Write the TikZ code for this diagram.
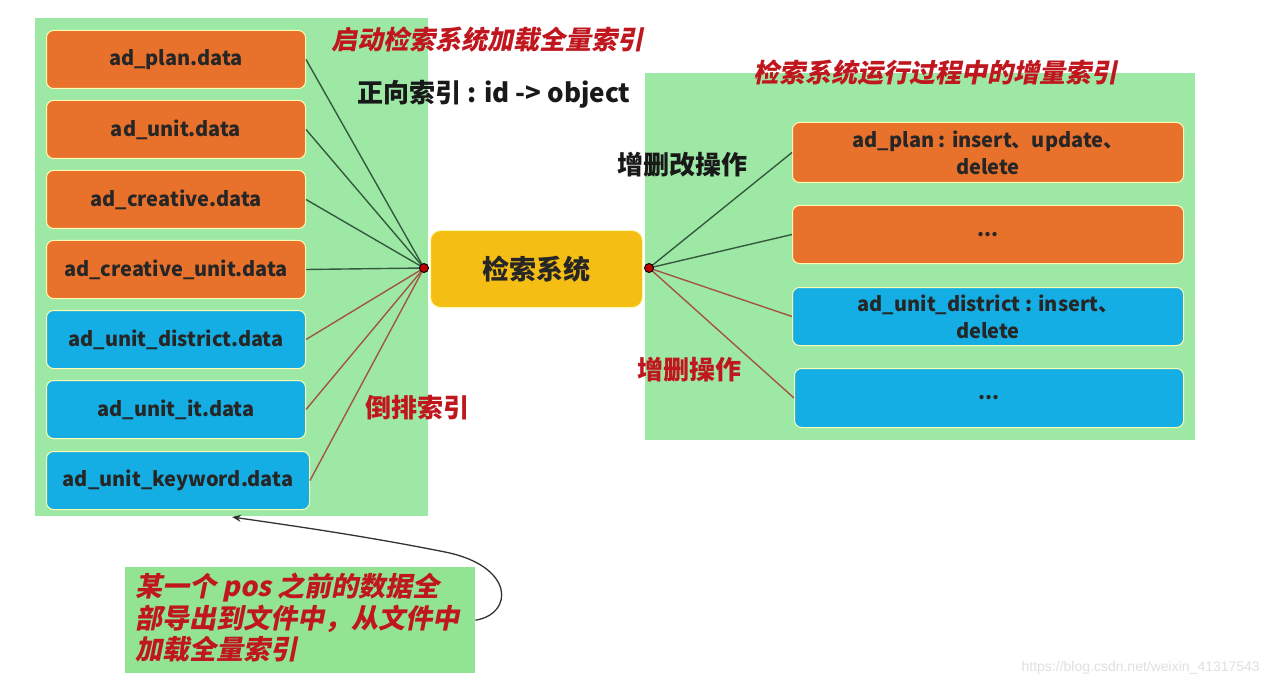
\documentclass[tikz,border=0pt]{standalone}
\usepackage{fontspec}
\newfontfamily\cjk{Noto Sans CJK SC}
\newfontfamily\cjkit[FakeSlant=0.2]{Noto Sans CJK SC}
\newfontfamily\wmfont{Liberation Sans}
\usetikzlibrary{arrows.meta}
\definecolor{panelgreen}{RGB}{158,232,166}
\definecolor{notegreen}{RGB}{146,228,146}
\definecolor{boxorange}{RGB}{232,113,43}
\definecolor{boxblue}{RGB}{21,174,228}
\definecolor{boxyellow}{RGB}{245,190,20}
\definecolor{redtext}{RGB}{192,22,30}
\definecolor{darkline}{RGB}{52,90,62}
\definecolor{brownline}{RGB}{160,86,66}
\tikzset{
  panel/.style={fill=panelgreen, draw=none},
  databox/.style={rounded corners=7pt, draw=white!70!yellow, line width=1pt,
    minimum height=58pt, anchor=north west, inner sep=2pt, align=center,
    font=\cjk\bfseries\fontsize{20}{27}\selectfont, text=black!85},
  obox/.style={databox, fill=boxorange},
  bbox/.style={databox, fill=boxblue},
  redlabel/.style={text=redtext, font=\cjk\bfseries\fontsize{26}{30}\selectfont, inner sep=0pt},
  reditlabel/.style={text=redtext, font=\cjkit\bfseries\fontsize{26}{30}\selectfont, inner sep=0pt},
  blacklabel/.style={text=black!90, font=\cjk\bfseries\fontsize{26}{30}\selectfont, inner sep=0pt},
  gline/.style={draw=darkline, line width=1.4pt},
  rline/.style={draw=brownline, line width=1.4pt},
  dot/.style={circle, fill=red!75!black, draw=black, line width=0.9pt, inner sep=0pt, minimum size=9pt},
}
\begin{document}
\begin{tikzpicture}[x=1pt,y=-1pt]
\useasboundingbox[fill=white] (0,0) rectangle (1269,687);
% panels
\path[panel] (35,18) rectangle (428,516);
\path[panel] (645,73) rectangle (1195,440);
% left boxes
\node[obox, minimum width=259pt] (l1) at (46,30) {ad\_plan.data};
\node[obox, minimum width=259pt] (l2) at (46,100) {ad\_unit.data};
\node[obox, minimum width=259pt] (l3) at (46,170) {ad\_creative.data};
\node[obox, minimum width=259pt] (l4) at (46,240) {ad\_creative\_unit.data};
\node[bbox, minimum width=259pt] (l5) at (46,310) {ad\_unit\_district.data};
\node[bbox, minimum width=259pt] (l6) at (46,380) {ad\_unit\_it.data};
\node[bbox, minimum width=263pt] (l7) at (46,451) {ad\_unit\_keyword.data};
% center box
\node[rounded corners=10pt, fill=boxyellow, draw=white!70!yellow, line width=1pt,
  minimum width=212pt, minimum height=77pt, anchor=north west,
  font=\cjk\bfseries\fontsize{27}{30}\selectfont, text=black!85] (c) at (430,230) {检索系统};
% right boxes
\node[obox, minimum width=391pt, minimum height=60pt] (r1) at (792,122) {ad\_plan : insert、update、\\delete};
\node[obox, minimum width=391pt] (r2) at (792,205) {...};
\node[bbox, minimum width=391pt] (r3) at (792,287) {ad\_unit\_district : insert、\\delete};
\node[bbox, minimum width=389pt, minimum height=59pt] (r4) at (794,368) {...};
% junction points
\coordinate (dl) at (424,268);
\coordinate (dr) at (649,268);
% left connectors
\draw[gline] (l1.east) -- (dl);
\draw[gline] (l2.east) -- (dl);
\draw[gline] (l3.east) -- (dl);
\draw[gline] (l4.east) -- (dl);
\draw[rline] (l5.east) -- (dl);
\draw[rline] (l6.east) -- (dl);
\draw[rline] (l7.east) -- (dl);
% right connectors
\draw[gline] (dr) -- (r1.west);
\draw[gline] (dr) -- (r2.west);
\draw[rline] (dr) -- (r3.west);
\draw[rline] (dr) -- (r4.west);
\node[dot] (dotl) at (dl) {};
\node[dot] (dotr) at (dr) {};
% labels
\node[reditlabel] (t1) at (487,40) {启动检索系统加载全量索引};
\node[blacklabel] (t2) at (494,94) {正向索引 : id -> object};
\node[reditlabel] (t3) at (935,73) {检索系统运行过程中的增量索引};
\node[blacklabel] (t4) at (682,165) {增删改操作};
\node[redlabel] (t5) at (689,370) {增删操作};
\node[redlabel] (t6) at (417,408) {倒排索引};
% note
\node[fill=notegreen, minimum width=350pt, minimum height=106pt, anchor=north west,
  inner sep=0pt] (note) at (125,567) {};
\node[reditlabel, align=left, anchor=north west, font=\cjkit\bfseries\fontsize{27}{31.5}\selectfont] (notetext) at (135,573)
  {某一个 pos 之前的数据全\\部导出到文件中，从文件中\\加载全量索引};
\coordinate (atip) at (232,517);
\draw[-{Stealth[length=9pt,width=7pt]}, line width=1.3pt, black!80]
  (note.east) .. controls (514,614) and (515,566) .. (445,552)
  .. controls (360,535) and (280,524) .. (atip);
% watermark
\node[text=black!12, font=\wmfont\fontsize{14}{16}\selectfont, anchor=east, inner sep=0pt] (wm) at (1260,668) {https://blog.csdn.net/weixin\_41317543};
\end{tikzpicture}
\end{document}
